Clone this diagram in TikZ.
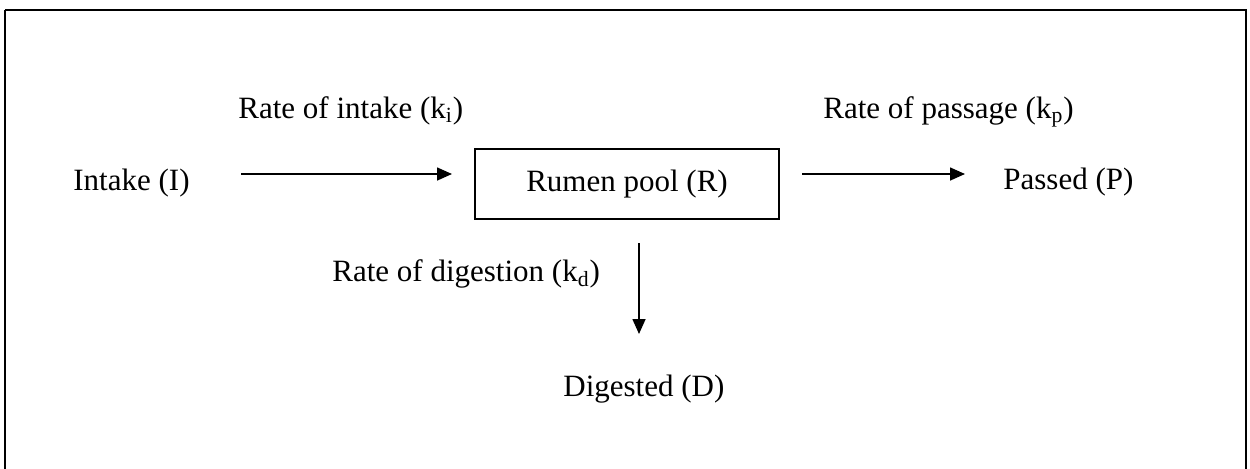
\documentclass[tikz,border=0pt]{standalone}
\usepackage{fontspec}
\setmainfont{Liberation Serif}
\usetikzlibrary{arrows.meta}
\begin{document}
\begin{tikzpicture}[x=0.5pt,y=-0.5pt,
  lbl/.style={inner sep=0pt,anchor=base west,font=\fontsize{15.5}{18}\selectfont},
  flow/.style={line width=0.8pt,-{Triangle[length=7.5pt,width=6.5pt]}},
  poolbox/.style={draw,line width=1pt,minimum width=152pt,minimum height=35pt,inner sep=0pt,font=\fontsize{15.5}{18}\selectfont}]
\useasboundingbox (0,0) rectangle (1250,468);
\fill[white] (0,0) rectangle (1250,468);
\draw[line width=1.1pt] (5,10) -- (1246,10) -- (1246,480) (5,10) -- (5,480);
\node[lbl] (intake) at (73,190) {Intake (I)};
\node[lbl] (ki) at (238,118) {Rate of intake (k\textsubscript{i})};
\node[poolbox] (rumen) at (627,184) {Rumen pool (R)};
\node[lbl] (passed) at (1003,189) {Passed (P)};
\node[lbl] (kp) at (823,118) {Rate of passage (k\textsubscript{p})};
\node[lbl] (kd) at (332,281) {Rate of digestion (k\textsubscript{d})};
\node[lbl] (digested) at (563,396) {Digested (D)};
\coordinate (a1s) at (241,174);
\coordinate (a1e) at (452,174);
\coordinate (a2s) at (802,174);
\coordinate (a2e) at (965,174);
\coordinate (a3s) at (639,243);
\coordinate (a3e) at (639,334);
\draw[flow] (a1s) -- (a1e);
\draw[flow] (a2s) -- (a2e);
\draw[flow] (a3s) -- (a3e);
\end{tikzpicture}
\end{document}
